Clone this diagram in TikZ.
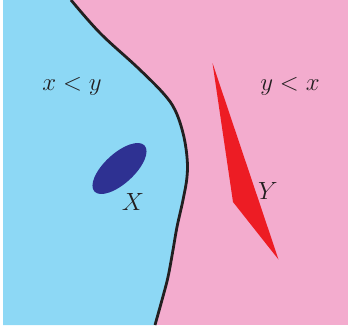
\documentclass[tikz,border=0pt]{standalone}
\usepackage{amsmath}
\definecolor{cSky}{RGB}{141,216,245}
\definecolor{cPink}{RGB}{243,172,206}
\definecolor{cNavy}{RGB}{46,49,146}
\definecolor{cRed}{RGB}{237,28,36}
\definecolor{cInk}{RGB}{35,31,32}

\begin{document}
\begin{tikzpicture}[
  x=1pt, y=-1pt,
  region/.style={draw=none},
  border/.style={draw=cInk, line width=2.8pt},
  lbl/.style={font=\fontsize{24}{28}\selectfont, text=cInk, inner sep=0pt}
]

%% page size (white margin round the coloured square)
\useasboundingbox (0,0) rectangle (349,330);

%% Background regions
\fill[region, cPink] (3,0) rectangle (348,325);
\fill[region, cSky] (3,0)
  -- plot[smooth, tension=0.6] coordinates {
    (71,0) (100,33) (137,67) (163,93) (175,110) (183,133) (187,157)
    (187,177) (183,200) (177,227) (173,250) (168,277) (162,300) (155,325)}
  -- (3,325) -- cycle;

%% Dividing curve
\draw[border] plot[smooth, tension=0.6] coordinates {
    (71,0) (100,33) (137,67) (163,93) (175,110) (183,133) (187,157)
    (187,177) (183,200) (177,227) (173,250) (168,277) (162,300) (155,325)};

%% Sets X and Y
\fill[cNavy, rotate around={42.5:(119.5,168.5)}]
  (119.5,168.5) ellipse (34 and 15);
\fill[cRed] (212.5,63) -- (233,202) -- (278.5,259.5) -- cycle;

%% Labels
\node[lbl] (lxy) at (72,86)  {$x<y$};
\node[lbl] (lyx) at (290,86) {$y<x$};
\node[lbl] (lX)  at (133,202) {$X$};
\node[lbl] (lY)  at (268,191) {$Y$};

\end{tikzpicture}
\end{document}
